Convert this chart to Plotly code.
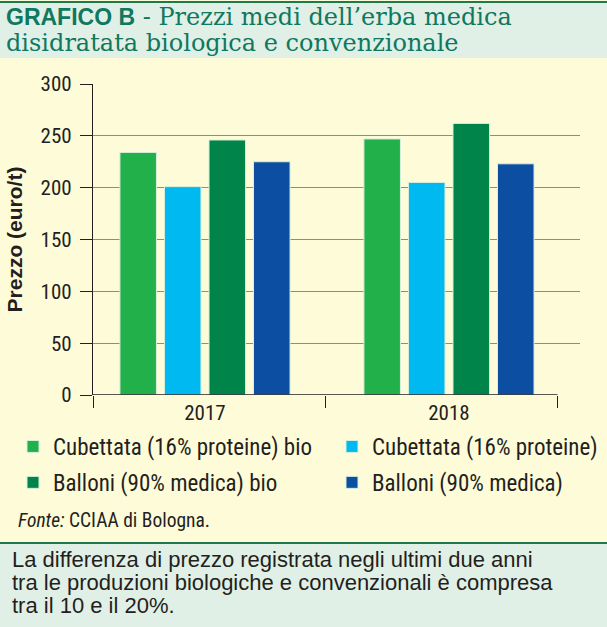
import plotly.graph_objects as go

years = ["2017", "2018"]
series_names = ["Cubettata (16% proteine) bio", "Cubettata (16% proteine)",
                "Balloni (90% medica) bio", "Balloni (90% medica)"]
cubettata_bio = [234, 247]
cubettata = [201, 205]
balloni_bio = [246, 262]
balloni = [225, 223]
y_ticks = [0, 50, 100, 150, 200, 250, 300]

series_values = [cubettata_bio, cubettata, balloni_bio, balloni]
colors = ["#22b04b", "#00b9f1", "#00844a", "#0c4ea1"]

W, H = 607, 627
L, R, T, B = 93, 27, 84, 232
PW, PH = W - L - R, H - T - B

def px(x):  # pixel x -> paper
    return (x - L) / PW

def py(y):  # pixel y -> paper
    return (H - B - y) / PH

narrow = "Roboto Condensed, Arial Narrow, Liberation Sans Narrow, DejaVu Sans Condensed, sans-serif"
regular = "Liberation Sans, Arial, sans-serif"
ink = "#231f20"

xpos = list(range(len(years)))
fig = go.Figure()
legends = ["legend", "legend2", "legend", "legend2"]
for i, (name, vals) in enumerate(zip(series_names, series_values)):
    fig.add_trace(go.Bar(
        x=xpos, y=vals, name=name,
        marker=dict(color=colors[i], line=dict(color="#d6f0dc", width=1)),
        legend=legends[i], legendgroup=name,
    ))

axis_font = dict(family=narrow, size=21, color=ink)
bg = "#fefbd9"
fig.update_layout(
    width=W, height=H,
    margin=dict(l=L, r=R, t=T, b=B, autoexpand=False),
    paper_bgcolor=bg, plot_bgcolor=bg,
    barmode="group", bargap=0.27, bargroupgap=0.18,
    showlegend=True,
    font=axis_font,
    xaxis=dict(range=[-0.459, 1.537], tickvals=xpos, ticktext=years,
               ticks="", showgrid=False, zeroline=False, showline=False,
               tickfont=axis_font, ticklabelstandoff=3,
               minor=dict(tick0=-0.455, dtick=0.95, ticks="outside", ticklen=12,
                          tickcolor=ink, tickwidth=1.3, showgrid=False)),
    yaxis=dict(range=[0, 300], tickvals=y_ticks, ticks="outside", ticklen=12,
               tickcolor=ink, tickwidth=1, showline=True, linecolor=ink,
               linewidth=1.3, showgrid=True, gridcolor="#8c8c8c", gridwidth=1,
               zeroline=False, tickfont=axis_font, ticklabelstandoff=4,
               title=dict(text="<b>Prezzo (euro/t)</b>", standoff=12,
                          font=dict(family=regular, size=21, color=ink))),
    legend=dict(x=px(13), xanchor="left", y=py(425), yanchor="top",
                orientation="v", bgcolor="rgba(0,0,0,0)", tracegroupgap=3,
                font=dict(family=narrow, size=23, color=ink)),
    legend2=dict(x=px(332), xanchor="left", y=py(425), yanchor="top",
                 orientation="v", bgcolor="rgba(0,0,0,0)", tracegroupgap=3,
                 font=dict(family=narrow, size=23, color=ink)),
)

# x axis baseline
fig.add_shape(type="line", xref="x", yref="y", x0=-0.459, x1=1.445, y0=0, y1=0,
              line=dict(color=ink, width=1.3), layer="above")

# title box
fig.add_shape(type="rect", xref="paper", yref="paper", x0=px(0), x1=px(W), y0=py(3), y1=py(58),
              fillcolor="#e1f0e6", line=dict(width=0), layer="below")
fig.add_shape(type="line", xref="paper", yref="paper", x0=px(0), x1=px(W), y0=py(2), y1=py(2),
              line=dict(color="#1d7a4e", width=2))
# bottom note box
fig.add_shape(type="rect", xref="paper", yref="paper", x0=px(0), x1=px(W), y0=py(543), y1=py(H),
              fillcolor="#e1f0e6", line=dict(width=0), layer="below")
fig.add_shape(type="line", xref="paper", yref="paper", x0=px(0), x1=px(W), y0=py(543), y1=py(543),
              line=dict(color="#1d7a4e", width=2))

serif = "DejaVu Serif, Liberation Serif, serif"
title_color = "#0f7860"
title_lines = [
    ("<span style='font-family:Liberation Sans, sans-serif;font-size:23px'><b>GRAFICO B</b></span>"
     " - Prezzi medi dell’erba medica"),
    "disidratata biologica e convenzionale",
]
for line, yc in zip(title_lines, [17, 43]):
    fig.add_annotation(
        xref="paper", yref="paper", x=px(4), y=py(yc), xanchor="left", yanchor="middle",
        align="left", showarrow=False, text=line,
        font=dict(family=serif, size=24, color=title_color),
    )

fig.add_annotation(
    xref="paper", yref="paper", x=px(16), y=py(520), xanchor="left", yanchor="middle",
    align="left", showarrow=False,
    text="<i>Fonte:</i> CCIAA di Bologna.",
    font=dict(family=narrow, size=19.5, color=ink),
)

note_lines = [
    "La differenza di prezzo registrata negli ultimi due anni",
    "tra le produzioni biologiche e convenzionali è compresa",
    "tra il 10 e il 20%.",
]
for line, yc in zip(note_lines, [559, 582, 605]):
    fig.add_annotation(
        xref="paper", yref="paper", x=px(10), y=py(yc), xanchor="left", yanchor="middle",
        align="left", showarrow=False, text=line,
        font=dict(family=regular, size=22, color=ink),
    )

fig.write_html("out.html", config={"displayModeBar": False},
               post_script="document.body.style.margin='0';")
